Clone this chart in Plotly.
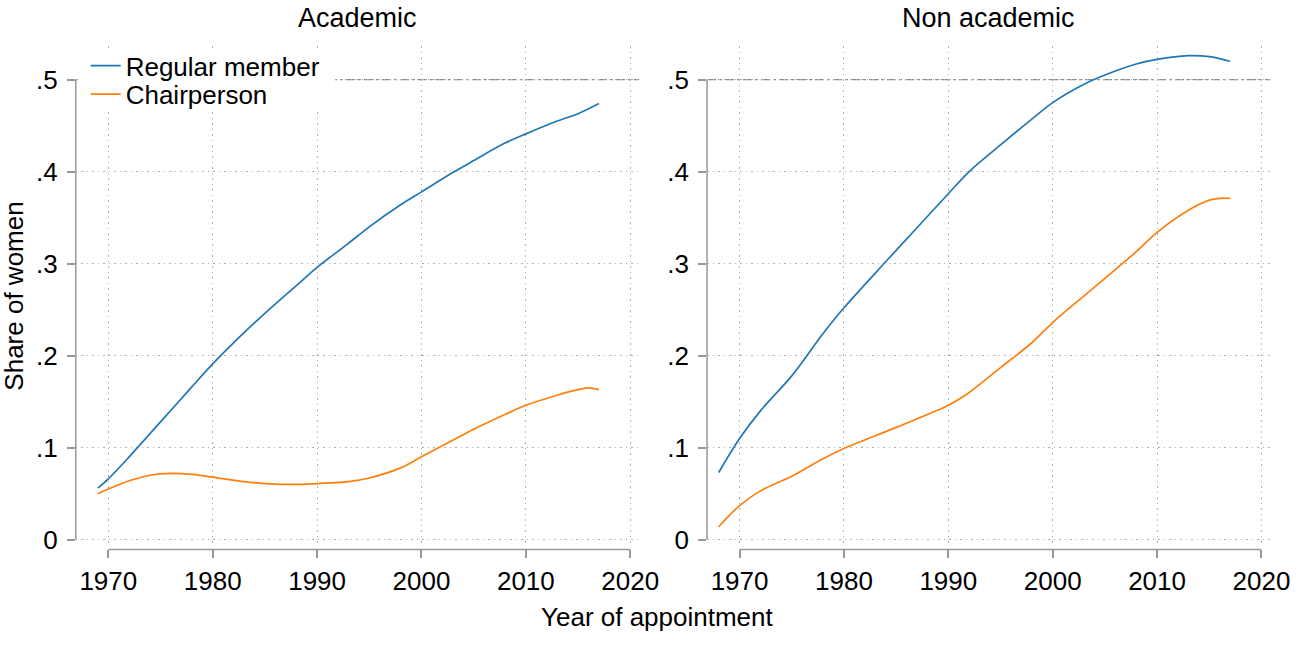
import plotly.graph_objects as go

# ---- data ----
acad_years_reg = [1969, 1970, 1972, 1975, 1978, 1980, 1983, 1985, 1988, 1990, 1993, 1995, 1998, 2000, 2003, 2005, 2008, 2010, 2013, 2015, 2017]
acad_reg = [0.056, 0.066, 0.090, 0.128, 0.166, 0.191, 0.225, 0.246, 0.276, 0.296, 0.322, 0.340, 0.364, 0.378, 0.399, 0.412, 0.431, 0.441, 0.455, 0.463, 0.474]

acad_years_chair = [1969, 1970, 1972, 1974, 1976, 1978, 1980, 1983, 1985, 1988, 1990, 1993, 1995, 1998, 2000, 2003, 2005, 2008, 2010, 2013, 2015, 2016, 2017]
acad_chair = [0.050, 0.055, 0.064, 0.070, 0.072, 0.071, 0.068, 0.063, 0.061, 0.060, 0.061, 0.063, 0.067, 0.078, 0.090, 0.108, 0.120, 0.136, 0.146, 0.157, 0.163, 0.165, 0.163]

nonacad_years_reg = [1968, 1970, 1972, 1975, 1978, 1980, 1984, 1987, 1990, 1992, 1995, 1998, 2000, 2003, 2005, 2008, 2010, 2013, 2015, 2017]
nonacad_reg = [0.073, 0.110, 0.140, 0.178, 0.224, 0.252, 0.302, 0.339, 0.376, 0.400, 0.429, 0.457, 0.475, 0.495, 0.505, 0.517, 0.522, 0.526, 0.525, 0.520]

nonacad_years_chair = [1968, 1970, 1972, 1975, 1978, 1980, 1985, 1990, 1992, 1995, 1998, 2000, 2003, 2005, 2008, 2010, 2013, 2015, 2016, 2017]
nonacad_chair = [0.014, 0.037, 0.053, 0.069, 0.088, 0.099, 0.122, 0.146, 0.160, 0.187, 0.214, 0.236, 0.265, 0.284, 0.313, 0.334, 0.358, 0.369, 0.371, 0.371]

series_names = ["Regular member", "Chairperson"]
panel_titles = ["Academic", "Non academic"]
y_tickvals = [0, 0.1, 0.2, 0.3, 0.4, 0.5]
y_ticktext = ["0", ".1", ".2", ".3", ".4", ".5"]
x_tickvals = [1970, 1980, 1990, 2000, 2010, 2020]
x_ticktext = ["1970", "1980", "1990", "2000", "2010", "2020"]
x_title = "Year of appointment"
y_title = "Share of women"

# ---- layout geometry ----
W, H = 1312, 646
BLUE = "#1f77b4"
ORANGE = "#ff7f0e"
GRID = "#b0b0b0"
AXC = "#999999"
FONT = "Liberation Sans"

dom1 = [77 / W, 649 / W]
dom2 = [718 / W, 1290 / W]
ydom = [(H - 553) / H, (H - 47) / H]
xaxis_pos = (H - 559) / H

fig = go.Figure()

fig.add_trace(go.Scatter(x=acad_years_reg, y=acad_reg, mode="lines", name=series_names[0],
                         line=dict(color=BLUE, width=1.7, shape="spline", smoothing=0.9),
                         xaxis="x", yaxis="y", legendgroup="a", legend="legend"))
fig.add_trace(go.Scatter(x=acad_years_chair, y=acad_chair, mode="lines", name=series_names[1],
                         line=dict(color=ORANGE, width=1.7, shape="spline", smoothing=0.9),
                         xaxis="x", yaxis="y", legendgroup="b", legend="legend2"))
fig.add_trace(go.Scatter(x=nonacad_years_reg, y=nonacad_reg, mode="lines", name=series_names[0],
                         line=dict(color=BLUE, width=1.7, shape="spline", smoothing=0.9),
                         xaxis="x2", yaxis="y2", showlegend=False, legendgroup="a"))
fig.add_trace(go.Scatter(x=nonacad_years_chair, y=nonacad_chair, mode="lines", name=series_names[1],
                         line=dict(color=ORANGE, width=1.7, shape="spline", smoothing=0.9),
                         xaxis="x2", yaxis="y2", showlegend=False, legendgroup="b"))

xr = [1970 - 33 / 10.6, 2020 + 9 / 10.6]
yr = [-4 / 936, 0.5 + 34 / 936]

common_x = dict(range=xr, tickvals=x_tickvals, ticktext=x_ticktext, showgrid=True,
                gridcolor=GRID, griddash="1.5px,4px", gridwidth=1, zeroline=False, showline=False,
                ticks="outside", ticklen=8, tickwidth=1.5, tickcolor=AXC,
                tickfont=dict(family=FONT, size=26, color="black"),
                anchor="free", position=xaxis_pos, fixedrange=True)
common_y = dict(range=yr, tickvals=y_tickvals, ticktext=y_ticktext, showgrid=True,
                gridcolor=GRID, griddash="1.5px,4px", gridwidth=1, zeroline=False, showline=False,
                ticks="outside", ticklen=8, tickwidth=1.5, tickcolor=AXC,
                tickfont=dict(family=FONT, size=26, color="black"),
                domain=ydom, ticklabelstandoff=4, fixedrange=True)

legend_common = dict(xanchor="left", yanchor="top", bgcolor="rgba(0,0,0,0)", borderwidth=0,
                     itemwidth=30, font=dict(family=FONT, size=26, color="black"))

fig.update_layout(
    autosize=True,
    margin=dict(l=0, r=0, t=0, b=0),
    paper_bgcolor="white", plot_bgcolor="white",
    font=dict(family=FONT, size=26, color="black"),
    xaxis=dict(domain=dom1, **common_x),
    xaxis2=dict(domain=dom2, **common_x),
    yaxis=dict(anchor="x", **common_y),
    yaxis2=dict(anchor="x2", **common_y),
    legend=dict(x=87 / W, y=(H - 43) / H, **legend_common),
    legend2=dict(x=87 / W, y=(H - 72) / H, **legend_common),
    showlegend=True,
)

# reference line at .5 in each panel
for xa, ya in (("x", "y"), ("x2", "y2")):
    fig.add_shape(type="line", xref=f"{xa} domain", yref=ya, x0=0, x1=1, y0=0.5, y1=0.5,
                  line=dict(color="#8c8c8c", width=1.3, dash="dashdot"), layer="below")

# white legend box area (hides grid and reference line behind the legend; no data there)
fig.add_shape(type="rect", xref="paper", yref="paper",
              x0=79 / W, x1=340 / W, y0=(H - 113) / H, y1=(H - 50) / H,
              fillcolor="white", line=dict(width=0), layer="above")

for xa, ya in (("x", "y"), ("x2", "y2")):
    # offset axis lines (Stata style)
    fig.add_shape(type="line", xref=f"{xa} domain", yref=ya, x0=0, x1=0, y0=0, y1=0.5,
                  line=dict(color=AXC, width=1.5))
    fig.add_shape(type="line", xref=xa, yref="paper", x0=1970, x1=2020, y0=xaxis_pos, y1=xaxis_pos,
                  line=dict(color=AXC, width=1.5))

# panel titles
for dom, t in ((dom1, panel_titles[0]), (dom2, panel_titles[1])):
    fig.add_annotation(text=t, x=(dom[0] + dom[1]) / 2, y=(H - 18) / H, xref="paper", yref="paper",
                       showarrow=False, font=dict(family=FONT, size=27, color="black"),
                       xanchor="center", yanchor="middle")

fig.add_annotation(text=x_title, x=668 / W, y=(H - 628) / H, xref="paper", yref="paper",
                   showarrow=False, font=dict(family=FONT, size=26, color="black"),
                   xanchor="center", yanchor="middle")
fig.add_annotation(text=y_title, x=14 / W, y=(H - 301) / H, xref="paper", yref="paper",
                   showarrow=False, textangle=-90, font=dict(family=FONT, size=26, color="black"),
                   xanchor="center", yanchor="middle")

fig.write_html("out.html",
               default_width="100vw", default_height="100vh",
               config={"displayModeBar": False},
               post_script="document.documentElement.style.margin='0';"
                           "document.body.style.margin='0';document.body.style.padding='0';"
                           "document.body.style.overflow='hidden';"
                           "window.dispatchEvent(new Event('resize'));")
